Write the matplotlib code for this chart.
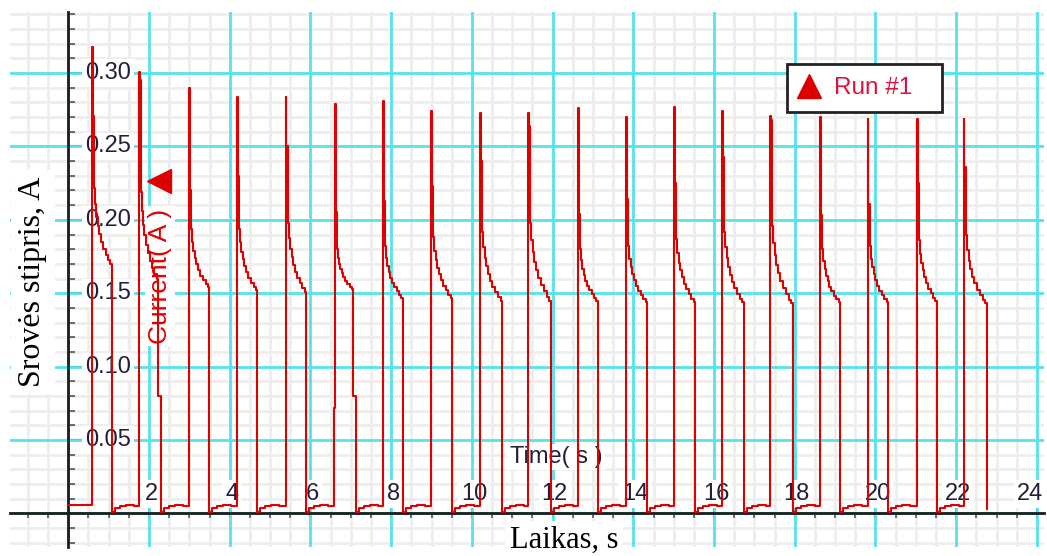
import numpy as np
import matplotlib.pyplot as plt
from matplotlib.lines import Line2D
from matplotlib.patches import Rectangle
from matplotlib.ticker import MultipleLocator

# ---- measured current pulses (one entry per pulse) ----
rise_t = [0.59, 1.75, 2.99, 4.18, 5.39, 6.61, 7.80, 8.99, 10.20, 11.39,
          12.63, 13.82, 15.01, 16.20, 17.39, 18.63, 19.81, 21.03, 22.19]
fall_t = [1.08, 2.22, 3.49, 4.68, 5.89, 7.05, 8.29, 9.51, 10.75, 11.96,
          13.12, 14.34, 15.53, 16.74, 17.95, 19.12, 20.31, 21.52, 22.76]
peak_a = [0.318, 0.301, 0.290, 0.284, 0.284, 0.279, 0.281, 0.274, 0.273, 0.273,
          0.276, 0.270, 0.277, 0.274, 0.271, 0.270, 0.269, 0.269, 0.269]
shoulder_hi = [0.271, 0.295, 0.220, 0.230, 0.250, 0.205, 0.213, 0.223, 0.240, 0.264,
               0.204, 0.214, 0.225, 0.243, 0.268, 0.203, 0.211, 0.225, 0.236]
shoulder_lo = [0.222, 0.219, 0.194, 0.194, 0.198, 0.180, 0.182, 0.188, 0.192, 0.198,
               0.180, 0.182, 0.187, 0.192, 0.196, 0.180, 0.182, 0.186, 0.190]
end_a = [0.170, 0.160, 0.154, 0.152, 0.151, 0.153, 0.147, 0.147, 0.145, 0.145,
         0.145, 0.144, 0.144, 0.144, 0.143, 0.144, 0.144, 0.145, 0.143]

# edges that pause half way
rise_step_pulse = [6]
rise_step_a = [0.072]
fall_step_pulse = [2, 6]
fall_step_a = [0.080, 0.080]

# decay after the shoulder: fraction of pulse time / fraction of drop
decay_tf = [0.0, 0.06, 0.13, 0.21, 0.30, 0.40, 0.52, 0.66, 0.80, 0.92]
decay_vf = [0.0, 0.22, 0.38, 0.50, 0.61, 0.71, 0.80, 0.88, 0.95, 1.00]

# baseline between pulses
start_a = 0.006
gap_dt = [0.0, 0.08, 0.20, 0.35, 0.55]
gap_a = [0.001, 0.004, 0.005, 0.006, 0.005]
last_a = 0.003

x_major = list(range(2, 25, 2))
y_major = [0.05, 0.10, 0.15, 0.20, 0.25, 0.30]

# ---- assemble the trace ----
t, a = [0.0], [start_a]
n = len(rise_t)
for i in range(n):
    r, f = rise_t[i], fall_t[i]
    if i + 1 in rise_step_pulse:
        t.append(r - 0.02)
        a.append(rise_step_a[rise_step_pulse.index(i + 1)])
    t += [r, r + 0.015]
    a += [peak_a[i], shoulder_hi[i]]
    t0 = r + 0.05
    span = f - t0
    lo, e = shoulder_lo[i], end_a[i]
    for tf, vf in zip(decay_tf, decay_vf):
        t.append(t0 + tf * span)
        a.append(lo - vf * (lo - e))
    if i + 1 in fall_step_pulse:
        t.append(f)
        a.append(fall_step_a[fall_step_pulse.index(i + 1)])
        f += 0.08
    if i == n - 1:
        t.append(f)
        a.append(last_a)
    else:
        for dt, v in zip(gap_dt, gap_a):
            t.append(f + dt)
            a.append(v)

# ---- figure ----
sans = 'Liberation Sans'
serif = 'Liberation Serif'
cyan = '#55e3ee'
red = '#e00000'
ink = '#20203a'
W, H = 1047, 556

fig = plt.figure(figsize=(W / 100, H / 100), dpi=100)
ax = fig.add_axes([10 / W, 9 / H, 1034 / W, 535 / H])
xmax = 24.175
ax.set_xlim(-1.444, xmax)
ax.set_ylim(-0.0229, 0.3416)

ax.xaxis.set_major_locator(MultipleLocator(2))
ax.xaxis.set_minor_locator(MultipleLocator(0.5))
ax.yaxis.set_major_locator(MultipleLocator(0.05))
ax.yaxis.set_minor_locator(MultipleLocator(0.01))
ax.set_axisbelow(True)
ax.grid(which='minor', color='#eeeeee', lw=2)
# major grid on top of the fine grid
for v in [0] + x_major:
    ax.axvline(v, color=cyan, lw=2, zorder=0.7)
for v in [0] + y_major:
    ax.axhline(v, color=cyan, lw=2, zorder=0.7)

for s in ['top', 'right']:
    ax.spines[s].set_visible(False)
for s in ['left', 'bottom']:
    ax.spines[s].set_position(('data', 0))
    ax.spines[s].set_color('#1e1e1e')
    ax.spines[s].set_linewidth(2)

ax.tick_params(axis='y', which='major', direction='in', length=10.5, width=1.5, color='#333')
ax.tick_params(axis='y', which='minor', direction='in', length=5, width=1.2, color='#555')
ax.tick_params(axis='x', which='major', direction='inout', length=7, width=1.5, color='#333')
ax.tick_params(axis='x', which='minor', direction='out', length=3.5, width=1.2, color='#555')
ax.tick_params(labelleft=False, labelbottom=False)

box = dict(boxstyle='square,pad=0.12', fc='white', ec='none')
for v in y_major:
    ax.text(0.41, v, f'{v:.2f}', fontsize=17, family=sans, color=ink,
            ha='left', va='center', bbox=box, zorder=3)
for v in x_major:
    if v == x_major[-1]:
        # last label kept inside the plot edge
        ax.text(xmax - 0.03, 0.0132, str(v), fontsize=17, family=sans, color=ink,
                ha='right', va='center', bbox=box, zorder=3)
    else:
        ax.text(v + 0.05, 0.0132, str(v), fontsize=17, family=sans, color=ink,
                ha='center', va='center', bbox=box, zorder=3)

ax.plot(t, a, drawstyle='steps-post', color=red, lw=1.5, zorder=4)

# in-plot axis captions
ax.text(0.1451, 0.5065, 'Current( A )', transform=ax.transAxes, rotation=90,
        fontsize=19, family=sans, color=red, ha='center', va='center',
        bbox=dict(boxstyle='square,pad=0.1', fc='white', ec='none'), zorder=3)
ax.plot([0.1441], [0.684], transform=ax.transAxes, marker='<', ms=17,
        color='#dd0000', ls='none', zorder=3)
ax.text(0.528, 0.168, 'Time( s )', transform=ax.transAxes,
        fontsize=17, family=sans, color=ink, ha='center', va='center',
        bbox=dict(boxstyle='square,pad=0.1', fc='white', ec='none'), zorder=3)

fig.text(0.0315, 0.4928, 'Srovės stipris, A', rotation=90, fontsize=23,
         family=serif, color='black', ha='center', va='center',
         bbox=dict(boxstyle='square,pad=0.22', fc='white', ec='none'))
fig.text(0.5387, 0.0288, 'Laikas, s', fontsize=22, family=serif,
         color='black', ha='center', va='center',
         bbox=dict(boxstyle='square,pad=0.15', fc='white', ec='none'))

# legend: framed box with the run marker
ax.add_patch(Rectangle((787 / W, 1 - 112 / H), 155 / W, 48 / H,
                       transform=fig.transFigure, fc='white', ec='#222222',
                       lw=2, zorder=5, clip_on=False))
handle = Line2D([], [], ls='none', marker='^', ms=17, color='#dd0000')
leg = ax.legend([handle], ['Run #1'], loc='center left',
                bbox_to_anchor=(796 / W, 1 - 88 / H), bbox_transform=fig.transFigure,
                frameon=False, prop={'family': sans, 'size': 17.5},
                labelcolor='#e0103c', handlelength=1.1, handletextpad=0.45,
                borderpad=0, borderaxespad=0)
leg.set_zorder(6)

fig.savefig('out.png', dpi=100)
